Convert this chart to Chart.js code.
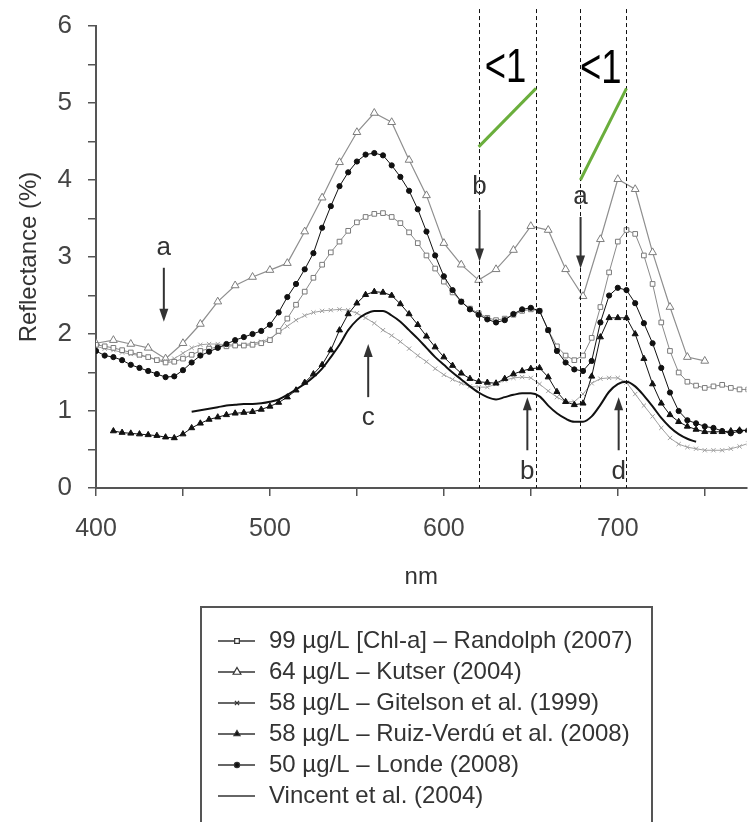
<!DOCTYPE html>
<html>
<head>
<meta charset="utf-8">
<title>Reflectance spectra</title>
<script src="https://cdn.jsdelivr.net/npm/chart.js@4.4.0/dist/chart.umd.min.js"></script>
<style>
  html, body { margin: 0; padding: 0; background: #fff; }
  canvas { display: block; }
</style>
</head>
<body>
<canvas id="reflectanceChart" width="752" height="822"></canvas>
<script>
// Wavelength grid (nm) shared by the dense series
const wavelengths = [
  400, 405, 410, 415, 420, 425, 430, 435, 440, 445,
  450, 455, 460, 465, 470, 475, 480, 485, 490, 495,
  500, 505, 510, 515, 520, 525, 530, 535, 540, 545,
  550, 555, 560, 565, 570, 575, 580, 585, 590, 595,
  600, 605, 610, 615, 620, 625, 630, 635, 640, 645,
  650, 655, 660, 665, 670, 675, 680, 685, 690, 695,
  700, 705, 710, 715, 720, 725, 730, 735, 740, 745,
  750, 755, 760, 765, 770, 775,
];

// Reflectance (%)
const randolph = [
  1.86, 1.84, 1.82, 1.79, 1.76, 1.73, 1.70, 1.66, 1.63, 1.64,
  1.68, 1.73, 1.78, 1.81, 1.83, 1.84, 1.85, 1.85, 1.86, 1.88,
  1.92, 2.04, 2.20, 2.38, 2.55, 2.73, 2.90, 3.06, 3.20, 3.34,
  3.45, 3.52, 3.56, 3.57, 3.52, 3.44, 3.32, 3.18, 3.02, 2.85,
  2.68, 2.54, 2.42, 2.33, 2.27, 2.21, 2.18, 2.20, 2.25, 2.30,
  2.32, 2.30, 2.05, 1.84, 1.72, 1.66, 1.72, 1.95, 2.35, 2.80,
  3.20, 3.35, 3.30, 3.02, 2.65, 2.15, 1.78, 1.50, 1.38, 1.33,
  1.30, 1.32, 1.34, 1.30, 1.28, 1.28,
];
const gitelson = [
  1.84, 1.81, 1.79, 1.76, 1.74, 1.72, 1.70, 1.67, 1.65, 1.68,
  1.75, 1.82, 1.86, 1.87, 1.87, 1.86, 1.86, 1.86, 1.88, 1.90,
  1.94, 2.02, 2.10, 2.18, 2.24, 2.28, 2.30, 2.31, 2.32, 2.31,
  2.27, 2.21, 2.14, 2.05, 1.98, 1.90, 1.81, 1.72, 1.64, 1.55,
  1.47, 1.41, 1.36, 1.32, 1.31, 1.31, 1.35, 1.40, 1.43, 1.44,
  1.43, 1.35, 1.26, 1.18, 1.12, 1.12, 1.22, 1.36, 1.42, 1.43,
  1.43, 1.37, 1.22, 1.07, 0.93, 0.78, 0.65, 0.57, 0.53, 0.51,
  0.49, 0.49, 0.49, 0.51, 0.54, 0.58,
];
const ruizVerdu = [
  null, null, 0.74, 0.72, 0.71, 0.70, 0.69, 0.68, 0.66, 0.65,
  0.70, 0.78, 0.84, 0.89, 0.92, 0.95, 0.97, 0.98, 0.99, 1.02,
  1.06, 1.11, 1.18, 1.27, 1.37, 1.48, 1.60, 1.79, 2.05, 2.26,
  2.40, 2.51, 2.55, 2.54, 2.50, 2.39, 2.26, 2.12, 1.97, 1.83,
  1.70, 1.59, 1.49, 1.42, 1.38, 1.37, 1.36, 1.42, 1.48, 1.52,
  1.55, 1.56, 1.44, 1.25, 1.12, 1.08, 1.10, 1.45, 1.96, 2.21,
  2.21, 2.21, 2.00, 1.68, 1.35, 1.10, 0.95, 0.86, 0.80, 0.76,
  0.73, 0.73, 0.73, 0.74, 0.75, 0.75,
];
const londe = [
  1.78, 1.72, 1.70, 1.66, 1.60, 1.56, 1.52, 1.48, 1.44, 1.45,
  1.53, 1.63, 1.72, 1.77, 1.82, 1.87, 1.92, 1.96, 2.00, 2.04,
  2.12, 2.28, 2.48, 2.65, 2.84, 3.05, 3.38, 3.66, 3.92, 4.10,
  4.24, 4.33, 4.35, 4.32, 4.19, 4.04, 3.86, 3.62, 3.33, 3.02,
  2.75, 2.57, 2.42, 2.32, 2.25, 2.19, 2.15, 2.18, 2.26, 2.32,
  2.34, 2.30, 2.05, 1.78, 1.63, 1.54, 1.52, 1.65, 2.15, 2.50,
  2.60, 2.57, 2.40, 2.14, 1.88, 1.56, 1.24, 1.00, 0.88, 0.84,
  0.80, 0.78, 0.74, 0.71, 0.74, 0.75,
];
const vincent = [
  null, null, null, null, null, null, null, null, null, null,
  null, 0.99, 1.01, 1.03, 1.05, 1.07, 1.08, 1.09, 1.09, 1.10,
  1.12, 1.15, 1.21, 1.28, 1.35, 1.44, 1.55, 1.70, 1.86, 2.05,
  2.18, 2.26, 2.30, 2.30, 2.24, 2.16, 2.05, 1.94, 1.82, 1.70,
  1.60, 1.50, 1.41, 1.32, 1.24, 1.18, 1.15, 1.18, 1.21, 1.23,
  1.23, 1.19, 1.07, 0.97, 0.90, 0.86, 0.86, 0.93, 1.08, 1.25,
  1.35, 1.38, 1.32, 1.20, 1.06, 0.91, 0.79, 0.70, 0.64, 0.60,
  null, null, null, null, null, null,
];

// Kutser is sampled every 10 nm
const kutserNm = [
  400, 410, 420, 430, 440, 450, 460, 470, 480, 490,
  500, 510, 520, 530, 540, 550, 560, 570, 580, 590,
  600, 610, 620, 630, 640, 650, 660, 670, 680, 690,
  700, 710, 720, 730, 740, 750,
];
const kutser = [
  1.88, 1.92, 1.87, 1.82, 1.68, 1.88, 2.13, 2.42, 2.63, 2.74,
  2.83, 2.92, 3.33, 3.77, 4.23, 4.62, 4.87, 4.75, 4.26, 3.80,
  3.18, 2.90, 2.70, 2.84, 3.09, 3.40, 3.35, 2.84, 2.49, 3.23,
  4.01, 3.88, 3.06, 2.35, 1.70, 1.65,
];

const seriesLabels = [
  "99 µg/L [Chl-a] – Randolph (2007)",
  "64 µg/L – Kutser (2004)",
  "58 µg/L – Gitelson et al. (1999)",
  "58 µg/L – Ruiz-Verdú et al. (2008)",
  "50 µg/L – Londe (2008)",
  "Vincent et al. (2004)",
];

// Annotations (positions in nm / reflectance units)
const dashedNm = [620, 653, 678, 705];
const greenSegments = [
  [620, 4.43, 653, 5.19],
  [678.5, 4.0, 705, 5.19],
];
const ratioLabels = [
  { nm: 635.5, r: 5.27, text: "<1" },
  { nm: 690.2, r: 5.26, text: "<1" },
];
const arrowNotes = [
  { text: "a", nm: 439, textR: 3.12, from: 2.86, to: 2.16 },
  { text: "c", nm: 556.5, textR: 0.91, from: 1.18, to: 1.87 },
  { text: "b", nm: 620.5, textR: 3.91, from: 3.61, to: 2.94 },
  { text: "a", nm: 678.6, textR: 3.78, from: 3.52, to: 2.85 },
  { text: "b", nm: 648, textR: 0.21, from: 0.49, to: 1.18 },
  { text: "d", nm: 700.5, textR: 0.21, from: 0.49, to: 1.18 },
];

const FONT = "'Liberation Sans', Arial, sans-serif";

function toPoints(xs, ys) {
  return xs.map((x, i) => ({ x: x, y: ys[i] }));
}

function drawArrow(ctx, x, yFrom, yTo) {
  const dir = yTo > yFrom ? 1 : -1;
  ctx.beginPath();
  ctx.moveTo(x, yFrom);
  ctx.lineTo(x, yTo - dir * 10);
  ctx.stroke();
  ctx.beginPath();
  ctx.moveTo(x, yTo);
  ctx.lineTo(x - 4.5, yTo - dir * 13);
  ctx.lineTo(x + 4.5, yTo - dir * 13);
  ctx.closePath();
  ctx.fill();
}

const annotationPlugin = {
  id: "annotations",
  afterDatasetsDraw(chart) {
    const { ctx, scales } = chart;
    const x = scales.x;
    const y = scales.y;
    ctx.save();

    // dashed verticals
    ctx.setLineDash([4, 3]);
    ctx.strokeStyle = "#111";
    ctx.lineWidth = 1;
    dashedNm.forEach((nm) => {
      const px = Math.round(x.getPixelForValue(nm)) + 0.5;
      ctx.beginPath();
      ctx.moveTo(px, y.getPixelForValue(6.22));
      ctx.lineTo(px, y.bottom);
      ctx.stroke();
    });
    ctx.setLineDash([]);

    // green slope lines
    ctx.strokeStyle = "#6aae3c";
    ctx.lineWidth = 3;
    greenSegments.forEach((s) => {
      ctx.beginPath();
      ctx.moveTo(x.getPixelForValue(s[0]), y.getPixelForValue(s[1]));
      ctx.lineTo(x.getPixelForValue(s[2]), y.getPixelForValue(s[3]));
      ctx.stroke();
    });

    // "<1" labels
    ctx.fillStyle = "#000";
    ctx.textAlign = "center";
    ctx.textBaseline = "alphabetic";
    ctx.font = "48px " + FONT;
    ratioLabels.forEach((l) => {
      ctx.save();
      ctx.translate(x.getPixelForValue(l.nm), y.getPixelForValue(l.r));
      ctx.scale(0.76, 1);
      ctx.fillText(l.text, 0, 0);
      ctx.restore();
    });

    // letters with arrows
    ctx.strokeStyle = "#333";
    ctx.fillStyle = "#333";
    ctx.lineWidth = 2;
    ctx.textBaseline = "middle";
    ctx.font = "26px " + FONT;
    arrowNotes.forEach((a) => {
      const px = x.getPixelForValue(a.nm);
      ctx.fillText(a.text, px, y.getPixelForValue(a.textR));
      drawArrow(ctx, px, y.getPixelForValue(a.from), y.getPixelForValue(a.to));
    });
    ctx.restore();
  },
};

const boxLegendPlugin = {
  id: "boxLegend",
  afterDraw(chart) {
    const ctx = chart.ctx;
    ctx.save();
    ctx.strokeStyle = "#555";
    ctx.lineWidth = 2;
    ctx.strokeRect(201, 607, 451, 260);

    ctx.font = "24px " + FONT;
    ctx.textAlign = "left";
    ctx.textBaseline = "middle";
    chart.data.datasets.forEach((ds, i) => {
      const cy = 641 + i * 31;
      ctx.strokeStyle = "#333";
      ctx.lineWidth = 1.5;
      ctx.beginPath();
      ctx.moveTo(218, cy);
      ctx.lineTo(255, cy);
      ctx.stroke();
      if (ds.pointRadius > 0) {
        ctx.fillStyle = ds.pointBackgroundColor;
        ctx.strokeStyle = "#333";
        ctx.lineWidth = 1.2;
        Chart.helpers.drawPoint(ctx, { pointStyle: ds.pointStyle, radius: ds.pointRadius, rotation: 0, borderWidth: 1.2 }, 237, cy);
      }
      ctx.fillStyle = "#333";
      ctx.fillText(ds.label, 269, cy);
    });
    ctx.restore();
  },
};

document.addEventListener("DOMContentLoaded", function () {
  const ctx = document.getElementById("reflectanceChart").getContext("2d");
  Chart.defaults.font.family = FONT;

  new Chart(ctx, {
    type: "line",
    data: {
      datasets: [
        {
          label: seriesLabels[0],
          data: toPoints(wavelengths, randolph),
          borderColor: "#8a8a8a",
          borderWidth: 1,
          pointStyle: "rect",
          pointRadius: 3.3,
          pointBackgroundColor: "#fff",
          pointBorderColor: "#7a7a7a",
          pointBorderWidth: 1,
          order: 4,
        },
        {
          label: seriesLabels[1],
          data: toPoints(kutserNm, kutser),
          borderColor: "#8f8f8f",
          borderWidth: 1.2,
          pointStyle: "triangle",
          pointRadius: 4.5,
          pointBackgroundColor: "#fff",
          pointBorderColor: "#7d7d7d",
          pointBorderWidth: 1,
          order: 6,
        },
        {
          label: seriesLabels[2],
          data: toPoints(wavelengths, gitelson),
          borderColor: "#a0a0a0",
          borderWidth: 1,
          pointStyle: "crossRot",
          pointRadius: 3,
          pointBackgroundColor: "#fff",
          pointBorderColor: "#a0a0a0",
          pointBorderWidth: 1,
          order: 5,
        },
        {
          label: seriesLabels[3],
          data: toPoints(wavelengths, ruizVerdu),
          borderColor: "#111",
          borderWidth: 1,
          pointStyle: "triangle",
          pointRadius: 3.5,
          pointBackgroundColor: "#111",
          pointBorderColor: "#111",
          pointBorderWidth: 1,
          order: 2,
        },
        {
          label: seriesLabels[4],
          data: toPoints(wavelengths, londe),
          borderColor: "#111",
          borderWidth: 1,
          pointStyle: "circle",
          pointRadius: 2.6,
          pointBackgroundColor: "#111",
          pointBorderColor: "#111",
          pointBorderWidth: 1,
          order: 1,
        },
        {
          label: seriesLabels[5],
          data: toPoints(wavelengths, vincent),
          borderColor: "#111",
          borderWidth: 2,
          pointRadius: 0,
          cubicInterpolationMode: "monotone",
          order: 3,
        },
      ],
    },
    options: {
      responsive: false,
      animation: false,
      layout: { padding: { top: 26, right: 0, bottom: 224, left: 0 } },
      plugins: {
        legend: { display: false },
        tooltip: { enabled: false },
      },
      scales: {
        x: {
          type: "linear",
          min: 400,
          max: 774,
          ticks: {
            stepSize: 50,
            includeBounds: false,
            autoSkip: false,
            maxRotation: 0,
            padding: 18,
            color: "#444",
            font: { size: 25 },
            callback: (v) => (v % 100 === 0 ? v : ""),
          },
          grid: { drawOnChartArea: false, drawTicks: true, tickLength: 8, color: "#555", lineWidth: 1.5 },
          border: { display: true, color: "#555", width: 2 },
          title: { display: true, text: "nm", color: "#333", font: { size: 24 }, padding: { top: 0, bottom: 6 } },
          afterFit: (s) => {
            s.height = 110;
            s.paddingLeft = 0;
            s.paddingRight = 0;
          },
        },
        y: {
          min: 0,
          max: 6,
          ticks: {
            stepSize: 0.5,
            padding: 16,
            color: "#444",
            font: { size: 26 },
            callback: (v) => (Number.isInteger(v) ? v : ""),
          },
          grid: { drawOnChartArea: false, drawTicks: true, tickLength: 8, color: "#555", lineWidth: 1.5 },
          border: { display: true, color: "#555", width: 2 },
          title: { display: true, text: "Reflectance (%)", color: "#333", font: { size: 24 }, padding: { top: 15, bottom: 0 } },
          afterFit: (s) => {
            s.width = 96;
            s.paddingTop = 0;
            s.paddingBottom = 0;
          },
        },
      },
    },
    plugins: [annotationPlugin, boxLegendPlugin],
  });
});
</script>
</body>
</html>
